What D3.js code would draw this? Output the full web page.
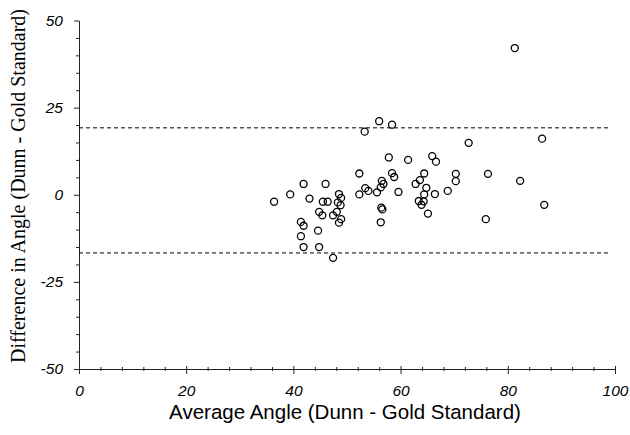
<!DOCTYPE html>
<html>
<head>
<meta charset="utf-8">
<script src="https://cdn.jsdelivr.net/npm/d3@7"></script>
<style>
  html, body { margin: 0; padding: 0; background: #fff; }
  svg { display: block; }
</style>
</head>
<body>
<svg id="chart" width="630" height="435"></svg>
<script>
// ---- data ----
const avgAngle = [
  36.4, 39.4, 41.9, 43.0, 46.0, 45.5, 46.4, 44.8, 45.4, 41.4,
  41.9, 41.4, 41.9, 44.6, 44.8, 47.4, 48.5, 48.9, 48.3, 48.8,
  48.1, 47.4, 48.9, 48.5, 52.3, 52.3, 53.3, 56.0, 58.4, 57.8,
  61.4, 58.4, 58.8, 56.5, 56.8, 53.4, 54.0, 55.6, 56.3, 59.6,
  56.4, 56.6, 56.3, 64.4, 63.6, 62.8, 64.8, 64.4, 63.4, 64.3,
  63.9, 65.1, 65.9, 66.6, 66.4, 68.8, 70.3, 70.3, 72.7, 76.3,
  75.9, 81.3, 86.4, 82.3, 86.8
];
const diffAngle = [
  -2.0, 0.1, 3.1, -1.1, 3.1, -2.0, -2.0, -4.9, -5.9, -7.8,
  -8.9, -11.9, -15.0, -10.3, -15.0, -18.1, 0.2, -0.9, -2.2, -3.0,
  -4.9, -5.9, -7.0, -8.0, 6.1, 0.1, 18.1, 21.1, 20.1, 10.7,
  10.0, 6.2, 5.1, 4.0, 3.1, 1.9, 1.1, 0.7, 2.1, 0.8,
  -3.7, -4.2, -7.9, 6.1, 4.2, 3.1, 2.0, 0.1, -1.8, -1.9,
  -2.9, -5.4, 11.1, 9.5, 0.2, 1.1, 6.0, 3.9, 14.9, 6.0,
  -7.0, 42.1, 16.1, 4.0, -2.9
];
const limitsOfAgreement = [19.2, -16.7];
const limitLineExtent = [0, 98.9];
const xTicks = [0, 20, 40, 60, 80, 100];
const yTicks = [-50, -25, 0, 25, 50];
const xMinorTicks = d3.range(0, 101, 4).filter(v => v % 20 !== 0);
const yMinorTicks = d3.range(-50, 51, 5).filter(v => v % 25 !== 0);
const xTitle = "Average Angle (Dunn - Gold Standard)";
const yTitle = "Difference in Angle (Dunn - Gold Standard)";

// ---- layout ----
const svg = d3.select("#chart");
const x = d3.scaleLinear().domain([0, 100]).range([79, 615]);
const y = d3.scaleLinear().domain([-50, 50]).range([369, 20.5]);
const axisColor = "#222";
const tickFont = "italic 15.5px 'Liberation Sans', Arial, sans-serif";
const fmt = d => String(d); // plain hyphen-minus like the original

// minor ticks
svg.append("g")
  .attr("transform", `translate(${x(0)},0)`)
  .call(d3.axisLeft(y).tickValues(yMinorTicks).tickSize(3).tickFormat(""))
  .call(g => g.select(".domain").remove())
  .call(g => g.selectAll("line").attr("stroke", axisColor));

svg.append("g")
  .attr("transform", `translate(0,${y(-50)})`)
  .call(d3.axisBottom(x).tickValues(xMinorTicks).tickSize(2).tickFormat(""))
  .call(g => g.select(".domain").remove())
  .call(g => g.selectAll("line").attr("y1", -2).attr("stroke", axisColor));

// major y axis
svg.append("g")
  .attr("transform", `translate(${x(0)},0)`)
  .call(d3.axisLeft(y).tickValues(yTicks).tickFormat(fmt).tickSize(5).tickPadding(11).tickSizeOuter(0))
  .call(g => g.select(".domain").attr("stroke", axisColor))
  .call(g => g.selectAll("line").attr("stroke", axisColor))
  .call(g => g.selectAll("text").style("font", tickFont).attr("fill", "#000"));

// major x axis
svg.append("g")
  .attr("transform", `translate(0,${y(-50)})`)
  .call(d3.axisBottom(x).tickValues(xTicks).tickFormat(fmt).tickSize(5).tickPadding(11).tickSizeOuter(0))
  .call(g => g.select(".domain").attr("stroke", axisColor))
  .call(g => g.selectAll("line").attr("y1", -3).attr("stroke", axisColor))
  .call(g => g.selectAll("text").style("font", tickFont).attr("fill", "#000"));

// limits of agreement (dashed)
svg.append("g")
  .selectAll("line")
  .data(limitsOfAgreement)
  .join("line")
  .attr("x1", x(limitLineExtent[0]))
  .attr("x2", x(limitLineExtent[1]))
  .attr("y1", d => y(d))
  .attr("y2", d => y(d))
  .attr("stroke", "#000")
  .attr("stroke-width", 1)
  .attr("stroke-dasharray", "4,3");

// points
svg.append("g")
  .selectAll("circle")
  .data(avgAngle.map((a, i) => [a, diffAngle[i]]))
  .join("circle")
  .attr("cx", d => x(d[0]))
  .attr("cy", d => y(d[1]))
  .attr("r", 3.5)
  .attr("fill", "none")
  .attr("stroke", "#000")
  .attr("stroke-width", 1.3);

// titles
svg.append("text")
  .attr("x", 345)
  .attr("y", 419)
  .attr("text-anchor", "middle")
  .style("font", "20.5px 'Liberation Sans', Arial, sans-serif")
  .attr("fill", "#000")
  .text(xTitle);

svg.append("text")
  .attr("transform", "translate(25,186) rotate(-90)")
  .attr("text-anchor", "middle")
  .style("font", "20px 'Liberation Serif', 'Times New Roman', serif")
  .attr("fill", "#000")
  .text(yTitle);
</script>
</body>
</html>
